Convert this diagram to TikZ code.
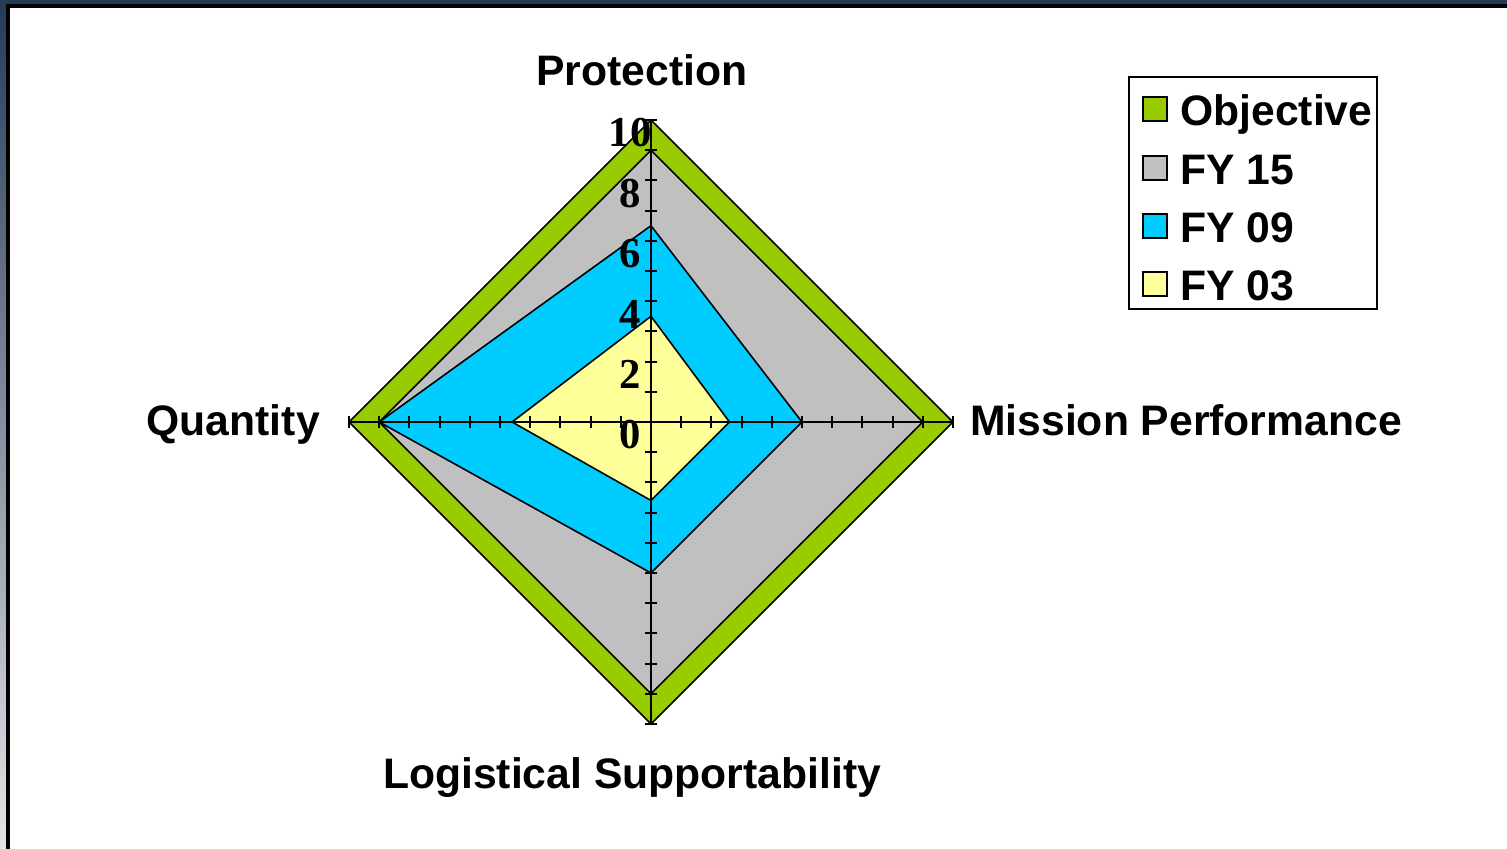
\documentclass[tikz,border=0pt]{standalone}
\usepackage{fontspec}
\setmainfont{Liberation Sans}
\newfontfamily\timesbold{Liberation Serif}[BoldFont={Liberation Serif Bold}]
\usepackage{xcolor}
\usetikzlibrary{positioning}

\definecolor{objgreen}{RGB}{153,204,0}
\definecolor{fygray}{RGB}{192,192,192}
\definecolor{fycyan}{RGB}{0,204,255}
\definecolor{fyyellow}{RGB}{255,255,153}
\definecolor{slidenavy}{RGB}{38,58,88}
\definecolor{slidegray}{RGB}{228,228,230}

\tikzset{
  area/.style={draw=black, line width=1.2},
  axislabel/.style={inner sep=0pt, font=\bfseries\fontsize{32}{38}\selectfont},
  ticklabel/.style={inner sep=0pt, font=\timesbold\bfseries\fontsize{32}{38}\selectfont},
  swatch/.style={draw=black, line width=1, minimum width=18pt, minimum height=18pt, inner sep=0pt},
}

\begin{document}
\begin{tikzpicture}[x=0.75pt,y=0.75pt,yscale=-1,xscale=1]
\useasboundingbox (0,0) rectangle (1507,849);

%Slide background: top and left strips
\fill [white] (0,0) rectangle (1507,849);
\shade [top color=slidenavy, bottom color=slidegray] (0,0) rectangle (8,849);
\fill [slidenavy] (0,0) rectangle (1507,5);
\draw [line width=2.4] (8,849) -- (8,6) -- (1507,6);

%Shape: Objective
\draw [area, fill=objgreen] (651,120) -- (953,422) -- (651,724) -- (349,422) -- cycle ;
%Shape: FY 15
\draw [area, fill=fygray] (651,150.2) -- (922.8,422) -- (651,693.8) -- (379.2,422) -- cycle ;
%Shape: FY 09
\draw [area, fill=fycyan] (651,225.7) -- (802,422) -- (651,573) -- (379.2,422) -- cycle ;
%Shape: FY 03
\draw [area, fill=fyyellow] (651,316.3) -- (729.5,422) -- (651,500.5) -- (512.1,422) -- cycle ;

%Axes
\coordinate (c) at (651,422);
\coordinate (top) at (651,120);
\coordinate (right) at (953,422);
\coordinate (bottom) at (651,724);
\coordinate (left) at (349,422);
\draw [line width=1.6] (top) -- (bottom) (left) -- (right);
%Ticks
\foreach \k in {1,...,10} {
  \draw [line width=1.6] (645,422-30.2*\k) -- (657,422-30.2*\k);
  \draw [line width=1.6] (645,422+30.2*\k) -- (657,422+30.2*\k);
  \draw [line width=1.6] (651+30.2*\k,416) -- (651+30.2*\k,428);
  \draw [line width=1.6] (651-30.2*\k,416) -- (651-30.2*\k,428);
}

% Tick labels
\foreach \v in {0,2,...,10}
  \node [ticklabel] (tick\v) at (630,435-30.2*\v) {\v};

% Text Node
\node [axislabel, anchor=base] (protection) at (642,85) {Protection};
% Text Node
\node [axislabel, anchor=base west] (mission) at (970,435) {Mission Performance};
% Text Node
\node [axislabel, anchor=base east] (quantity) at (320,435) {Quantity};
% Text Node
\node [axislabel, anchor=base] (logistic) at (632,788) {Logistical Supportability};

%Legend
\draw [line width=1.2] (1129,77) rectangle (1377,309);
\node [swatch, fill=objgreen] (swobj) at (1155,109) {};
\node [axislabel, anchor=base west] at (1180,125) {Objective};
\node [swatch, fill=fygray] (sw15) at (1155,168) {};
\node [axislabel, anchor=base west] at (1180,184) {FY 15};
\node [swatch, fill=fycyan] (sw09) at (1155,226) {};
\node [axislabel, anchor=base west] at (1180,242) {FY 09};
\node [swatch, fill=fyyellow] (sw03) at (1155,284) {};
\node [axislabel, anchor=base west] at (1180,300) {FY 03};

\end{tikzpicture}
\end{document}
